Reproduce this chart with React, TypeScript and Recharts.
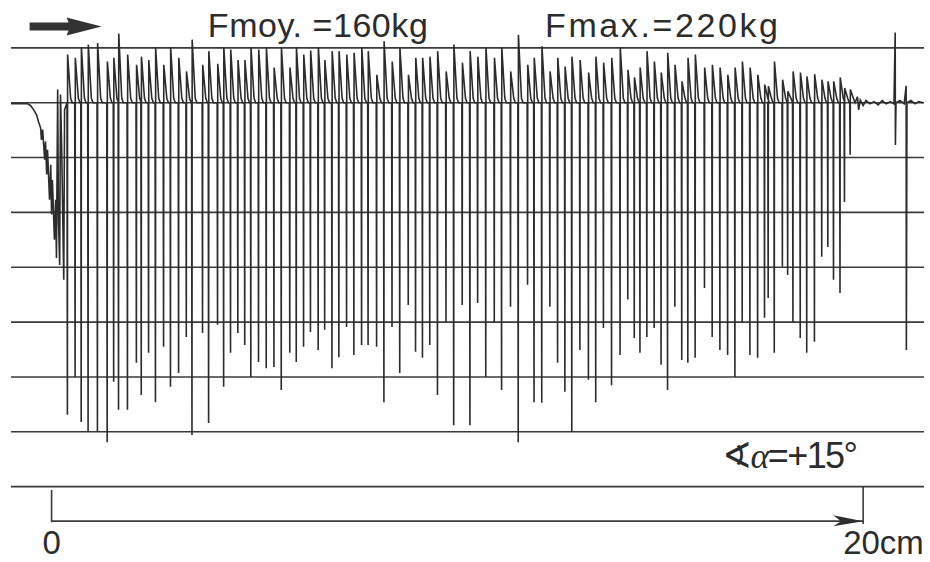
import React from 'react'
import { LineChart, Line, XAxis, YAxis, ReferenceLine, ReferenceDot } from 'recharts'

// positions along the strip in cm, deflection in grid divisions (baseline = 0)
const startX = [-1.0, -0.59, -0.52, -0.44, -0.37, -0.32, -0.27, -0.25, -0.22, -0.17, -0.15, -0.12, -0.1, -0.05, -0.02, 0, 0.02, 0.07, 0.1, 0.12, 0.15, 0.17, 0.2, 0.22, 0.25, 0.3, 0.32]
const startY = [-0.02, -0.02, -0.05, -0.13, -0.22, -0.35, -0.46, -0.68, -0.49, -1.04, -0.71, -1.31, -0.86, -1.77, -1.13, -2.04, -1.41, -2.5, -1.77, -2.83, 0.24, -2.14, -2.96, 0.15, -0.86, -3.23, -0.13]

const spikeX = [
  0.39, 0.58, 0.73, 0.9, 1.13, 1.37, 1.53, 1.65, 1.87, 2.09,
  2.21, 2.39, 2.56, 2.76, 2.93, 3.13, 3.32, 3.46, 3.72, 3.87,
  4.09, 4.24, 4.41, 4.59, 4.76, 4.91, 5.1, 5.29, 5.48, 5.66,
  5.87, 6.03, 6.21, 6.38, 6.57, 6.73, 6.91, 7.08, 7.27, 7.45,
  7.64, 7.8, 8.01, 8.19, 8.39, 8.58, 8.79, 8.97, 9.14, 9.32,
  9.51, 9.72, 9.91, 10.12, 10.31, 10.5, 10.7, 10.91, 11.09, 11.31,
  11.5, 11.73, 11.89, 12.08, 12.28, 12.47, 12.65, 12.82, 13.02, 13.23,
  13.41, 13.6, 13.8, 14.01, 14.2, 14.36, 14.5, 14.67, 14.85, 15.02,
  15.18, 15.36, 15.53, 15.68, 15.86, 16.09, 16.28, 16.47, 16.66, 16.84,
  17.02, 17.21, 17.4, 17.57, 17.66, 17.81, 18.01, 18.14, 18.27, 18.45,
  18.61, 18.8, 18.98, 19.13, 19.27, 19.43, 19.54, 19.68,
]
const spikeLow = [
  -5.69, -5.0, -5.82, -6.0, -6.0, -6.19, -5.09, -5.6, -5.6, -4.74,
  -5.33, -4.56, -5.46, -4.45, -5.18, -4.93, -4.27, -6.06, -4.2, -5.84,
  -4.05, -5.18, -4.56, -4.2, -4.42, -5.0, -4.73, -4.84, -4.82, -5.24,
  -4.56, -4.73, -4.45, -4.18, -4.51, -4.14, -4.84, -4.64, -4.09, -4.6,
  -4.42, -4.42, -4.45, -5.46, -4.09, -4.93, -3.69, -4.54, -4.65, -4.42,
  -5.33, -4.0, -5.88, -3.69, -5.88, -3.65, -5.0, -4.01, -5.24, -3.72,
  -6.19, -3.32, -5.46, -5.47, -3.72, -4.74, -5.27, -6.0, -4.51, -5.05,
  -5.46, -4.11, -5.15, -4.6, -3.59, -4.29, -4.56, -4.27, -4.11, -4.78,
  -5.24, -3.72, -4.69, -4.74, -4.65, -3.38, -4.27, -4.51, -4.6, -5.0,
  -4.01, -4.6, -4.65, -3.92, -3.56, -4.56, -2.99, -3.14, -4.0, -4.29,
  -4.56, -4.36, -2.81, -2.63, -3.23, -3.47, -1.81, -0.95,
]
const spikeHigh = [
  0.88, 0.82, 1.01, 1.06, 1.09, 0.75, 0.82, 1.26, 0.88, 0.69,
  0.84, 0.78, 1.0, 0.69, 1.01, 0.82, 0.57, 1.15, 0.69, 0.94,
  0.71, 1.0, 0.97, 0.78, 0.78, 1.0, 0.97, 1.0, 0.64, 1.0,
  0.64, 1.01, 0.88, 0.95, 1.01, 0.78, 0.94, 0.94, 0.88, 0.91,
  1.0, 0.94, 0.51, 1.12, 0.75, 1.0, 0.51, 0.82, 0.82, 0.84,
  0.94, 0.57, 1.06, 0.73, 0.94, 0.84, 1.01, 0.82, 1.01, 0.57,
  1.24, 0.69, 0.82, 1.03, 0.57, 0.82, 0.66, 0.84, 0.78, 0.55,
  0.84, 0.73, 0.82, 1.01, 0.6, 0.46, 0.64, 0.94, 0.75, 0.55,
  0.91, 0.69, 0.39, 0.82, 0.88, 0.64, 0.69, 0.64, 0.51, 0.64,
  0.75, 0.64, 0.51, 0.33, 0.3, 0.75, 0.42, 0.21, 0.57, 0.55,
  0.48, 0.52, 0.42, 0.39, 0.39, 0.46, 0.27, 0.24,
]

const tailX = [19.86, 19.89, 19.93, 20.0, 20.07, 20.17, 20.27, 20.37, 20.47, 20.57, 20.67, 20.76, 20.79, 20.795, 20.81, 20.91, 21.01, 21.06, 21.065, 21.08, 21.18, 21.28, 21.37, 21.48]
const tailY = [0.11, -0.13, 0.05, -0.05, 0.04, -0.02, 0.02, -0.04, 0.04, -0.02, 0.02, -0.02, 1.28, -0.77, 0, 0.04, -0.02, 0.31, -4.51, 0, 0.04, -0.02, 0.02, 0]

const gridLevels = [1, 0, -1, -2, -3, -4, -5, -6, -7]
const scaleTicks = [0, 20]
const scaleLabels = ['0', '20cm']
const scaleLevel = -7.63

const trace: { x: number; y: number }[] = []
startX.forEach((x, i) => trace.push({ x, y: startY[i] }))
spikeX.forEach((x, i) => {
  trace.push({ x: x - 0.01, y: 0 })
  trace.push({ x, y: spikeLow[i] })
  trace.push({ x: x + 0.005, y: spikeHigh[i] })
  trace.push({ x: x + 0.08, y: 0.08 })
  trace.push({ x: x + 0.12, y: 0 })
})
tailX.forEach((x, i) => trace.push({ x, y: tailY[i] }))

const INK = '#2c2c2c'
const FONT = '"Liberation Sans", Arial, sans-serif'

const ScaleTick = (props: any) => {
  const { x, y, payload } = props
  const idx = scaleTicks.indexOf(payload.value)
  const first = idx === 0
  return (
    <text
      x={first ? x : x - 20}
      y={y + 29}
      textAnchor={first ? 'middle' : 'start'}
      fontFamily={FONT}
      fontSize={33}
      fill={INK}
    >
      {scaleLabels[idx]}
    </text>
  )
}

const App = () => {
  return (
    <div style={{ position: 'absolute', left: 0, top: 0, width: 930, height: 562, background: '#fff' }}>
      <LineChart width={930} height={562} data={trace} margin={{ top: 4, right: 6, bottom: 0, left: 11 }}>
        <XAxis
          dataKey='x'
          type='number'
          domain={[-1, 21.5]}
          ticks={scaleTicks}
          axisLine={false}
          tickLine={false}
          tickSize={0}
          tickMargin={0}
          height={37}
          tick={<ScaleTick />}
          allowDataOverflow
        />
        <YAxis hide type='number' domain={[-7.7, 1.8]} allowDataOverflow />
        {gridLevels.map((v) => (
          <ReferenceLine key={v} y={v} stroke='#3a3a3a' strokeWidth={1.6} />
        ))}
        <ReferenceLine
          segment={[{ x: 0, y: scaleLevel }, { x: 20, y: scaleLevel }]}
          stroke='#3a3a3a'
          strokeWidth={1.6}
        />
        <ReferenceLine segment={[{ x: 0, y: -7.06 }, { x: 0, y: -7.65 }]} stroke='#3a3a3a' strokeWidth={1.6} />
        <ReferenceLine segment={[{ x: 20, y: -7.0 }, { x: 20, y: -7.68 }]} stroke='#3a3a3a' strokeWidth={1.6} />
        <ReferenceDot
          x={20}
          y={scaleLevel}
          r={1}
          shape={(p: any) => (
            <polygon
              points={`${p.cx},${p.cy} ${p.cx - 30},${p.cy - 6} ${p.cx - 22},${p.cy} ${p.cx - 30},${p.cy + 5}`}
              fill={INK}
            />
          )}
        />
        <ReferenceDot
          x={0}
          y={1.39}
          r={1}
          shape={(p: any) => (
            <polygon
              points={`${p.cx - 22},${p.cy - 4} ${p.cx + 17},${p.cy - 4} ${p.cx + 15},${p.cy - 9} ${p.cx + 50},${p.cy} ${p.cx + 15},${p.cy + 9} ${p.cx + 17},${p.cy + 4} ${p.cx - 22},${p.cy + 4}`}
              fill='#333'
            />
          )}
        />
        <ReferenceDot
          x={3.85}
          y={1.2}
          r={1}
          shape={(p: any) => (
            <text x={p.cx} y={p.cy} fontFamily={FONT} fontSize={34} fill={INK} textLength={220} lengthAdjust='spacing'>
              Fmoy. =160kg
            </text>
          )}
        />
        <ReferenceDot
          x={12.16}
          y={1.2}
          r={1}
          shape={(p: any) => (
            <text x={p.cx} y={p.cy} fontFamily={FONT} fontSize={34} fill={INK} textLength={233} lengthAdjust='spacing'>
              Fmax.=220kg
            </text>
          )}
        />
        <ReferenceDot
          x={16.52}
          y={-6.66}
          r={1}
          shape={(p: any) => (
            <text x={p.cx} y={p.cy} fontFamily={FONT} fontSize={36} fill={INK} textLength={136} lengthAdjust='spacing'>
              <tspan fontFamily='"DejaVu Sans"'>∢</tspan>
              <tspan fontStyle='italic' fontFamily='"Liberation Serif", serif'>α</tspan>
              <tspan>=+15°</tspan>
            </text>
          )}
        />
        <Line
          dataKey='y'
          type='linear'
          dot={false}
          activeDot={false}
          stroke={INK}
          strokeWidth={1.6}
          isAnimationActive={false}
        />
      </LineChart>
    </div>
  )
}

export default App
